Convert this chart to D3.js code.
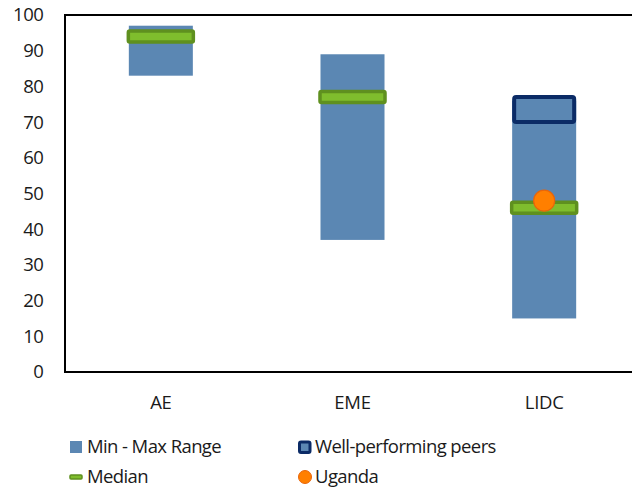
<!DOCTYPE html>
<html>
<head>
<meta charset="utf-8">
<script src="https://cdn.jsdelivr.net/npm/d3@7/dist/d3.min.js"></script>
<style>
  html, body { margin: 0; padding: 0; background: #fff; }
  svg { display: block; font-family: "Open Sans", "Noto Sans", sans-serif; }
</style>
</head>
<body>
<svg id="chart" width="632" height="493"></svg>
<script>
// Country groups and their ranges
const categories = ["AE", "EME", "LIDC"];
const minValues = [83, 37, 15];
const maxValues = [97, 89, 76];
const medianValues = [94, 77, 46];
// Well-performing peers band (LIDC only)
const peersCategory = "LIDC";
const peersRange = [70, 77];
// Uganda's score
const ugandaCategory = "LIDC";
const ugandaValue = 48;
const yTicks = [0, 10, 20, 30, 40, 50, 60, 70, 80, 90, 100];

const colors = {
  bar: "#5b87b3",
  medianFill: "#7fbd2d",
  medianStroke: "#5f901f",
  peersStroke: "#0b2b66",
  ugandaFill: "#ff7f00",
  ugandaStroke: "#e8650a",
  text: "#1a1a1a"
};

const fontFamily = "\"Open Sans\", \"Noto Sans\", sans-serif";
const svg = d3.select("#chart");
const margin = { left: 65, top: 15, right: -8, bottom: 121 };
const W = 632, H = 493;
const plotW = W - margin.left - margin.right;
const plotH = H - margin.top - margin.bottom;

const g = svg.append("g").attr("transform", `translate(${margin.left},${margin.top})`);

const x = d3.scaleBand().domain(categories).range([0, plotW]).paddingInner(0.666).paddingOuter(0.333);
const y = d3.scaleLinear().domain([0, 100]).range([plotH, 0]);

// Min–max range bars
g.selectAll("rect.range")
  .data(categories)
  .join("rect")
  .attr("class", "range")
  .attr("x", d => x(d))
  .attr("width", x.bandwidth())
  .attr("y", (d, i) => y(maxValues[i]))
  .attr("height", (d, i) => y(minValues[i]) - y(maxValues[i]))
  .attr("fill", colors.bar);

// Well-performing peers box
g.append("rect")
  .attr("x", x(peersCategory) + 2)
  .attr("width", x.bandwidth() - 4)
  .attr("y", y(peersRange[1]))
  .attr("height", y(peersRange[0]) - y(peersRange[1]))
  .attr("rx", 2)
  .attr("fill", colors.bar)
  .attr("stroke", colors.peersStroke)
  .attr("stroke-width", 4);

// Median markers
const medH = 11;
g.selectAll("rect.median")
  .data(categories)
  .join("rect")
  .attr("class", "median")
  .attr("x", d => x(d) - 0.5)
  .attr("width", x.bandwidth() + 1)
  .attr("y", (d, i) => y(medianValues[i]) - medH / 2)
  .attr("height", medH)
  .attr("rx", 1.5)
  .attr("fill", colors.medianFill)
  .attr("stroke", colors.medianStroke)
  .attr("stroke-width", 3.5);

// Uganda marker
g.append("circle")
  .attr("cx", x(ugandaCategory) + x.bandwidth() / 2)
  .attr("cy", y(ugandaValue))
  .attr("r", 10.5)
  .attr("fill", colors.ugandaFill)
  .attr("stroke", colors.ugandaStroke)
  .attr("stroke-width", 1.2);

// Plot frame
g.append("rect")
  .attr("x", 0).attr("y", 0)
  .attr("width", plotW).attr("height", plotH)
  .attr("fill", "none")
  .attr("stroke", "#000")
  .attr("stroke-width", 2);

// Y axis labels
const yAxis = d3.axisLeft(y).tickValues(yTicks).tickSize(0).tickPadding(21.5);
const ya = g.append("g").call(yAxis);
ya.select(".domain").remove();
ya.selectAll("text")
  .attr("font-size", 18.5)
  .attr("font-family", fontFamily)
  .attr("letter-spacing", -0.4)
  .attr("fill", colors.text);

// X axis labels
const xAxis = d3.axisBottom(x).tickSize(0).tickPadding(24);
const xa = g.append("g").attr("transform", `translate(0,${plotH})`).call(xAxis);
xa.select(".domain").remove();
xa.selectAll("text")
  .attr("font-size", 18.5)
  .attr("font-family", fontFamily)
  .attr("letter-spacing", -0.3)
  .attr("fill", colors.text);

// Legend
const legend = svg.append("g")
  .attr("font-size", 18.5)
  .attr("font-family", fontFamily)
  .attr("letter-spacing", -0.6)
  .attr("fill", colors.text);
const row1 = 447, row2 = 477;
const col1 = 70, col2 = 298;

legend.append("rect").attr("x", col1).attr("y", row1 - 6).attr("width", 12).attr("height", 12).attr("fill", colors.bar);
legend.append("text").attr("x", col1 + 17).attr("y", row1).attr("dy", "0.35em").text("Min - Max Range");

legend.append("rect").attr("x", col2 + 1.5).attr("y", row1 - 5).attr("width", 10.5).attr("height", 10.5).attr("rx", 1.5)
  .attr("fill", colors.bar).attr("stroke", colors.peersStroke).attr("stroke-width", 3);
legend.append("text").attr("x", col2 + 17).attr("y", row1).attr("dy", "0.35em").text("Well-performing peers");

legend.append("rect").attr("x", col1).attr("y", row2 - 2).attr("width", 12).attr("height", 4).attr("rx", 1)
  .attr("fill", colors.medianFill).attr("stroke", colors.medianStroke).attr("stroke-width", 1.5);
legend.append("text").attr("x", col1 + 17).attr("y", row2).attr("dy", "0.35em").text("Median");

legend.append("circle").attr("cx", col2 + 7).attr("cy", row2).attr("r", 6.5)
  .attr("fill", colors.ugandaFill).attr("stroke", colors.ugandaStroke).attr("stroke-width", 1);
legend.append("text").attr("x", col2 + 17).attr("y", row2).attr("dy", "0.35em").text("Uganda");
</script>
</body>
</html>
